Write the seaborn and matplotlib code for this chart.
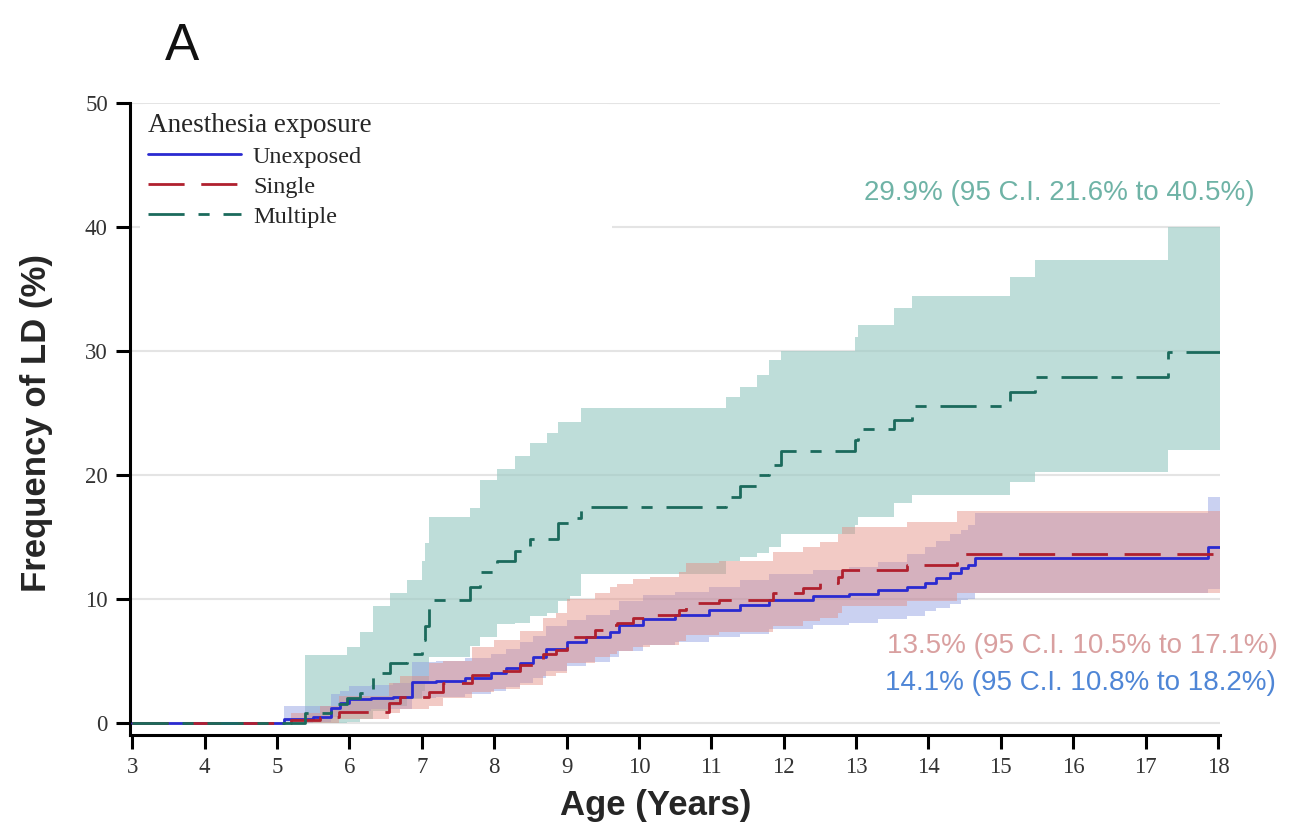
# Cumulative frequency of LD by anesthesia exposure (step curves with 95% CI bands)
import pandas as pd
import seaborn as sns
import matplotlib.pyplot as plt

# Unexposed
unexp_age = [3.0, 5.09, 5.5, 5.75, 5.87, 6.0, 6.3, 6.6, 6.87, 7.2, 7.6, 7.95, 8.17, 8.36, 8.54, 8.72, 9.0, 9.27,
             9.6, 9.73, 10.05, 10.5, 10.97, 11.4, 11.8, 12.4, 12.9, 13.3, 13.7, 13.95, 14.1, 14.3, 14.45, 14.55,
             14.65, 17.86]
unexp_est = [0, 0.3, 0.5, 1.2, 1.6, 1.9, 2.0, 2.1, 3.3, 3.4, 3.6, 4.0, 4.4, 4.8, 5.3, 6.0, 6.5, 6.9,
             7.3, 7.9, 8.4, 8.7, 9.1, 9.5, 9.9, 10.2, 10.4, 10.7, 11.0, 11.3, 11.7, 12.1, 12.5, 12.7, 13.3, 14.2]
unexp_hi = [0, 1.4, 1.4, 2.3, 2.6, 3.0, 3.1, 3.2, 4.9, 5.0, 5.2, 5.6, 6.0, 6.5, 7.0, 7.8, 8.3, 8.7,
            9.1, 9.8, 10.3, 10.6, 11.0, 11.5, 12.0, 12.3, 12.6, 13.0, 13.6, 14.2, 14.7, 15.2, 15.6, 16.0, 16.9, 18.2]
unexp_lo = [0, 0, 0.05, 0.5, 0.7, 1.0, 1.1, 1.1, 2.0, 2.1, 2.3, 2.6, 2.9, 3.2, 3.6, 4.2, 4.6, 4.9,
            5.3, 5.8, 6.3, 6.5, 6.9, 7.2, 7.6, 7.9, 8.1, 8.4, 8.6, 9.0, 9.3, 9.6, 9.9, 10.0, 10.5, 10.8]

# Single
single_age = [3.0, 5.2, 5.6, 5.85, 6.55, 6.7, 7.1, 7.3, 7.7, 8.0, 8.36, 8.68, 8.85, 9.0, 9.4, 9.6, 9.7, 9.92,
              10.15, 10.56, 10.65, 11.1, 11.85, 12.27, 12.5, 12.75, 12.8, 13.7, 14.4]
single_est = [0, 0.2, 0.5, 0.9, 1.6, 2.1, 2.5, 3.2, 3.9, 4.2, 4.7, 5.6, 5.9, 6.9, 7.5, 7.9, 8.1, 8.5,
              8.7, 9.1, 9.7, 9.9, 10.5, 10.9, 11.3, 11.8, 12.3, 12.7, 13.6]
single_hi = [0, 0.8, 1.4, 2.2, 3.2, 3.8, 4.8, 5.0, 6.1, 6.7, 7.4, 8.5, 8.9, 10.0, 10.5, 11.0, 11.2, 11.6,
             11.8, 12.2, 12.9, 13.1, 13.8, 14.2, 14.6, 15.2, 15.8, 16.2, 17.1]
single_lo = [0, 0, 0, 0.3, 0.8, 1.1, 1.4, 2.0, 2.5, 2.7, 3.1, 3.8, 4.0, 4.8, 5.3, 5.6, 5.8, 6.1,
             6.3, 6.6, 7.1, 7.3, 7.8, 8.2, 8.5, 8.9, 9.4, 9.8, 10.5]

# Multiple
multi_age = [3.0, 5.39, 5.75, 5.97, 6.15, 6.33, 6.56, 6.8, 7.0, 7.05, 7.1, 7.66, 7.8, 8.04, 8.29, 8.5,
             8.73, 8.88, 9.05, 9.2, 11.2, 11.4, 11.63, 11.8, 11.97, 12.98, 13.03, 13.52, 13.77, 15.13,
             15.47, 17.31]
multi_est = [0, 0.8, 1.5, 2.0, 2.4, 4.0, 4.8, 5.6, 6.7, 7.8, 9.9, 11.0, 12.2, 13.1, 13.9, 14.8,
             14.8, 16.1, 16.5, 17.4, 18.2, 19.1, 20.0, 20.8, 21.9, 22.8, 23.7, 24.4, 25.6, 26.7, 27.9, 29.9]
multi_hi = [0, 5.5, 5.5, 6.1, 7.3, 9.4, 10.5, 11.5, 13.1, 14.5, 16.6, 17.3, 19.6, 20.5, 21.5, 22.6,
            23.4, 24.3, 24.3, 25.4, 26.3, 27.1, 28.1, 29.3, 30.0, 31.1, 32.1, 33.5, 34.4, 36.0, 37.3, 40.0]
multi_lo = [0, 0, 0, 0.1, 0.3, 1.0, 1.4, 1.9, 2.6, 3.2, 5.3, 6.2, 6.9, 8.0, 8.1, 8.6,
            8.9, 9.8, 10.2, 12.0, 13.1, 13.4, 13.7, 14.2, 15.2, 16.0, 16.6, 17.7, 18.4, 19.4, 20.2, 22.0]

end_age = 18.03
groups = ['Unexposed', 'Single', 'Multiple']
x_ticks = list(range(3, 19))
y_ticks = [0, 10, 20, 30, 40, 50]

summary_labels = {
    'Multiple': '29.9% (95 C.I. 21.6% to 40.5%)',
    'Single': '13.5% (95 C.I. 10.5% to 17.1%)',
    'Unexposed': '14.1% (95 C.I. 10.8% to 18.2%)',
}

line_colors = {'Unexposed': '#2a2ad0', 'Single': '#b0202e', 'Multiple': '#1b6a5c'}
band_colors = {'Unexposed': ('#8b9be0', 0.45), 'Single': ('#e48a80', 0.45), 'Multiple': ('#9ccbc5', 0.65)}
text_colors = {'Unexposed': '#4f86d6', 'Single': '#d9a0a0', 'Multiple': '#6fb3a6'}
dash_styles = {'Unexposed': '', 'Single': (13, 6), 'Multiple': (13, 5, 4, 5)}

series = {
    'Unexposed': (unexp_age, unexp_est, unexp_lo, unexp_hi),
    'Single': (single_age, single_est, single_lo, single_hi),
    'Multiple': (multi_age, multi_est, multi_lo, multi_hi),
}

# long table for seaborn, curves carried on to the end of follow-up
rows = []
for g in groups:
    age, est, lo, hi = series[g]
    for a, e, l, h in zip(age + [end_age], est + [est[-1]], lo + [lo[-1]], hi + [hi[-1]]):
        rows.append({'group': g, 'age': a, 'pct': e, 'lo': l, 'hi': h})
df = pd.DataFrame(rows)

sns.set_theme(style='white')
serif = ['Liberation Serif', 'DejaVu Serif']
sans = ['Liberation Sans', 'DejaVu Sans']

fig = plt.figure(figsize=(12.98, 8.32), dpi=100)
ax = fig.add_axes([0.1002, 0.1166, 0.8398, 0.7596])

# CI bands
for g in ['Multiple', 'Unexposed', 'Single']:
    d = df[df['group'] == g]
    col, alp = band_colors[g]
    ax.fill_between(d['age'], d['lo'], d['hi'], step='post', color=col, alpha=alp, linewidth=0, zorder=1)

sns.lineplot(data=df, x='age', y='pct', hue='group', style='group', hue_order=groups, style_order=groups,
             palette=line_colors, dashes=dash_styles, drawstyle='steps-post', estimator=None, sort=False,
             linewidth=2.0, legend=False, ax=ax, zorder=3)

ax.set_xlim(2.97, end_age)
ax.set_ylim(-0.97, 50)
ax.set_xticks(x_ticks)
ax.set_yticks(y_ticks)
ax.yaxis.grid(True, color='#e4e4e4', linewidth=1.5, zorder=0)
ax.set_axisbelow(True)
for s in ['top', 'right']:
    ax.spines[s].set_visible(False)
for s in ['left', 'bottom']:
    ax.spines[s].set_color('black')
    ax.spines[s].set_linewidth(2.2)
ax.tick_params(axis='both', direction='out', length=10, width=2.2, color='black', pad=6,
               bottom=True, left=True)
for lab in ax.get_xticklabels() + ax.get_yticklabels():
    lab.set_family(serif)
    lab.set_fontsize(16.5)
    lab.set_color('#333333')

ax.set_xlabel('Age (Years)', family=sans, fontsize=25, fontweight='bold')
ax.set_ylabel('Frequency of LD (%)', family=sans, fontsize=25, fontweight='bold')
ax.xaxis.set_label_coords(0.4826, -0.085)
ax.yaxis.set_label_coords(-0.071, 0.494)

# legend, white box reaching over the 40 gridline like the original
handles = [ax.lines[i] for i in range(3)]
leg = ax.legend(handles, groups, title='Anesthesia exposure', loc='upper left',
                bbox_to_anchor=(0.009, 0.79, 0.433, 0.208), mode='expand',
                frameon=True, facecolor='white', edgecolor='none', framealpha=1, handlelength=3.8,
                borderaxespad=0, borderpad=0.35, labelspacing=0.33, handletextpad=0.5,
                prop={'family': serif, 'size': 17.5})
leg.get_title().set_family(serif)
leg.get_title().set_fontsize(19.5)
leg._legend_box.align = 'left'
leg.set_zorder(4)

# summary labels at age 18
label_base = {'Multiple': 42.2, 'Single': 5.65, 'Unexposed': 2.66}
label_right = {'Multiple': 18.51, 'Single': 18.83, 'Unexposed': 18.8}
for g in groups:
    ax.text(label_right[g], label_base[g], summary_labels[g], ha='right', va='baseline', fontsize=20,
            color=text_colors[g], family=sans, clip_on=False, zorder=5)

fig.text(0.127, 0.928, 'A', fontsize=37, va='baseline', ha='left', family=sans, color='#111111')

fig.savefig('out.png', dpi=100)
